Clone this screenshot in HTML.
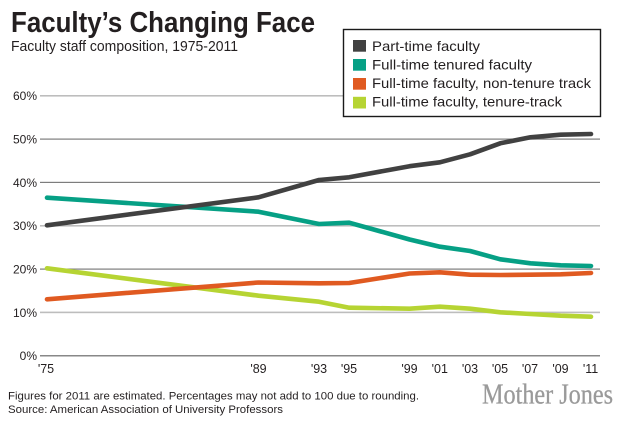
<!DOCTYPE html>
<html><head><meta charset="utf-8"><style>
html,body{margin:0;padding:0;background:#fff;}
svg{display:block;}
text{font-family:"Liberation Sans",sans-serif;fill:#231f20;}
</style></head><body>
<svg width="630" height="421" viewBox="0 0 630 421" xmlns="http://www.w3.org/2000/svg">
<rect x="0" y="0" width="630" height="421" fill="#fff"/>
<text x="11" y="32" font-size="29" font-weight="bold" textLength="304" lengthAdjust="spacingAndGlyphs">Faculty’s Changing Face</text>
<text x="11" y="51" font-size="15" textLength="227" lengthAdjust="spacingAndGlyphs">Faculty staff composition, 1975-2011</text>

<!-- gridlines -->
<rect x="40" y="95" width="560" height="1.6" fill="#bdbdbd"/>
<rect x="40" y="138.5" width="560" height="1.2" fill="#7d7d7d"/>
<rect x="40" y="181.8" width="560" height="1.2" fill="#7d7d7d"/>
<rect x="40" y="225" width="560" height="1.6" fill="#bdbdbd"/>
<rect x="40" y="268.5" width="560" height="1.2" fill="#7d7d7d"/>
<rect x="40" y="311.6" width="560" height="1.6" fill="#bdbdbd"/>
<rect x="40" y="355.2" width="560" height="1.2" fill="#6a6a6a"/>

<!-- y labels -->
<g font-size="12" text-anchor="end">
<text x="37" y="100">60%</text>
<text x="37" y="143.5">50%</text>
<text x="37" y="186.8">40%</text>
<text x="37" y="230.2">30%</text>
<text x="37" y="273.5">20%</text>
<text x="37" y="316.8">10%</text>
<text x="37" y="360.2">0%</text>
</g>

<!-- x labels -->
<g font-size="12.5" text-anchor="middle">
<text x="46" y="373">'75</text>
<text x="258.5" y="373">'89</text>
<text x="319" y="373">'93</text>
<text x="349" y="373">'95</text>
<text x="409.5" y="373">'99</text>
<text x="439.8" y="373">'01</text>
<text x="470" y="373">'03</text>
<text x="500" y="373">'05</text>
<text x="530" y="373">'07</text>
<text x="560.5" y="373">'09</text>
<text x="590.5" y="373">'11</text>
</g>

<!-- series -->
<g fill="none" stroke-width="4.6" stroke-linecap="round" stroke-linejoin="round">
<polyline stroke="#b6d433" points="47,268.3 258.5,295.7 319,301.7 349.2,307.7 409.6,308.7 439.9,306.7 470.1,308.7 500.3,312.3 530.5,314 560.7,315.7 591,316.7"/>
<polyline stroke="#e05a21" points="47,299.3 258.5,282.5 319,283.3 349.2,283 409.6,273.5 439.9,272.3 470.1,274.7 500.3,275 530.5,274.7 560.7,274.3 591,273"/>
<polyline stroke="#06a085" points="47,197.7 258.5,211.7 319,224 349.2,222.7 409.6,239.5 439.9,246.7 470.1,251 500.3,259.3 530.5,263.3 560.7,265.3 591,266"/>
<polyline stroke="#414141" points="47,225.3 258.5,197.3 319,180 349.2,177.3 409.6,166.2 439.9,162.3 470.1,154.3 500.3,143.3 530.5,137.3 560.7,134.7 591,134"/>
</g>

<!-- legend -->
<rect x="343.5" y="29.5" width="257" height="87" fill="#fff" stroke="#1a1a1a" stroke-width="1.4"/>
<rect x="353" y="40" width="13" height="11.7" fill="#414141"/>
<rect x="353" y="59" width="13" height="11.7" fill="#06a085"/>
<rect x="353" y="78" width="13" height="11.7" fill="#e05a21"/>
<rect x="353" y="96.8" width="13" height="11.7" fill="#b6d433"/>
<g font-size="14">
<text x="372" y="50.8" textLength="108" lengthAdjust="spacingAndGlyphs">Part-time faculty</text>
<text x="372" y="69.5" textLength="160" lengthAdjust="spacingAndGlyphs">Full-time tenured faculty</text>
<text x="372" y="88" textLength="219" lengthAdjust="spacingAndGlyphs">Full-time faculty, non-tenure track</text>
<text x="372" y="106.6" textLength="190" lengthAdjust="spacingAndGlyphs">Full-time faculty, tenure-track</text>
</g>

<!-- footer -->
<text x="8" y="399.5" font-size="11" textLength="411" lengthAdjust="spacingAndGlyphs">Figures for 2011 are estimated. Percentages may not add to 100 due to rounding.</text>
<text x="8" y="413" font-size="11" textLength="275" lengthAdjust="spacingAndGlyphs">Source: American Association of University Professors</text>
<text x="482" y="403.5" font-size="29" textLength="131" lengthAdjust="spacingAndGlyphs" style="font-family:'Liberation Serif',serif;fill:#9a9a9a;stroke:#9a9a9a;stroke-width:0.3;">Mother Jones</text>
</svg>
</body></html>
